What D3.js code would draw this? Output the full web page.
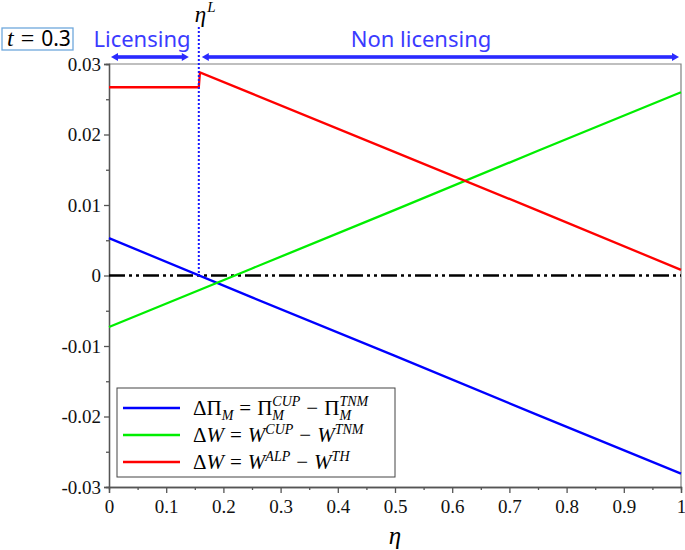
<!DOCTYPE html>
<html>
<head>
<meta charset="utf-8">
<script src="https://cdn.jsdelivr.net/npm/d3@7"></script>
<style>
  body { margin: 0; background: #fff; }
  svg { display: block; }
</style>
</head>
<body>
<script>
// values
var etaL = 0.157
var tVal = 0.3
var etaLin = [0, 0.25, 0.5, 0.75, 1]
var dPiM = [0.0053, -0.0031, -0.0114, -0.0198, -0.0281]
var dWcup = [-0.0073, 0.0010, 0.0093, 0.0177, 0.0260]
var etaRed = [0, 0.155, 0.157, 0.159, 0.25, 0.5, 0.75, 1]
var dWalp = [0.0267, 0.0267, 0.0267, 0.0288, 0.0258, 0.0175, 0.0092, 0.0008]
var xTicks = [0, 0.1, 0.2, 0.3, 0.4, 0.5, 0.6, 0.7, 0.8, 0.9, 1]
var yTicks = [-0.03, -0.02, -0.01, 0, 0.01, 0.02, 0.03]

var W = 685, H = 550
var svg = d3.select("body").append("svg")
  .attr("width", W)
  .attr("height", H)

var x = d3.scaleLinear().domain([0, 1]).range([109, 681])
var y = d3.scaleLinear().domain([-0.03, 0.03]).range([487, 64])

var serif = "Liberation Serif"
var sans = "Noto Sans"
var blueTxt = "#3b3bff"

// frame top/right
svg.append("path")
  .attr("d", "M" + x(0) + "," + y(0.03) + "H" + x(1) + "V" + y(-0.03))
  .attr("fill", "none")
  .attr("stroke", "#808080")
  .attr("stroke-width", 1.2)

// axes (minor ticks in their own groups)
svg.append("g").attr("transform", "translate(0," + y(-0.03) + ")")
  .call(d3.axisBottom(x).tickValues(d3.range(0.05, 1, 0.1)).tickSize(3).tickFormat(""))
var xAxis = svg.append("g").attr("transform", "translate(0," + y(-0.03) + ")")
  .call(d3.axisBottom(x).tickValues(xTicks).tickSize(6).tickFormat(d3.format("~g")))
xAxis.selectAll("text").style("font-family", serif).style("font-size", "19px").attr("fill", "#111").attr("y", 13)

svg.append("g").attr("transform", "translate(" + x(0) + ",0)")
  .call(d3.axisLeft(y).tickValues([-0.025, -0.015, -0.005, 0.005, 0.015, 0.025]).tickSize(3).tickFormat(""))
var yAxis = svg.append("g").attr("transform", "translate(" + x(0) + ",0)")
  .call(d3.axisLeft(y).tickValues(yTicks).tickSize(5).tickFormat(function (d) {
    return d === 0 ? "0" : d3.format(".2f")(d).replace("−", "-")
  }))
yAxis.selectAll("text").style("font-family", serif).style("font-size", "19px").attr("fill", "#111").attr("x", -8)

svg.selectAll(".domain, .tick line").attr("stroke", "#555").attr("stroke-width", 1.3)

// zero reference line, dash-dot-dot
svg.append("line")
  .attr("x1", x(0)).attr("x2", x(1))
  .attr("y1", y(0)).attr("y2", y(0))
  .attr("stroke", "#000")
  .attr("stroke-width", 2.4)
  .attr("stroke-dasharray", "16,4,3,4,3,4")

var line = d3.line()
  .x(function (d) { return x(d[0]) })
  .y(function (d) { return y(d[1]) })

var series = [
  { c: "#0000ff", pts: d3.zip(etaLin, dPiM) },
  { c: "#00ee00", pts: d3.zip(etaLin, dWcup) },
  { c: "#ff0000", pts: d3.zip(etaRed, dWalp) }
]
svg.selectAll(".series")
  .data(series)
  .enter()
  .append("path")
  .attr("class", "series")
  .attr("d", function (d) { return line(d.pts) })
  .attr("fill", "none")
  .attr("stroke", function (d) { return d.c })
  .attr("stroke-width", 2.3)

// eta^L dotted marker
svg.append("line")
  .attr("x1", x(etaL)).attr("x2", x(etaL))
  .attr("y1", 27).attr("y2", y(0))
  .attr("stroke", "#1a1aff")
  .attr("stroke-width", 2)
  .attr("stroke-dasharray", "2,2")

var etaLab = svg.append("text")
  .attr("x", x(etaL) - 4).attr("y", 22)
  .style("font-family", serif).style("font-size", "23px").style("font-style", "italic")
etaLab.append("tspan").text("η")
etaLab.append("tspan").style("font-size", "15px").attr("dy", -10).attr("dx", 1).text("L")

// regime arrows
function arrow(x1, x2, yy) {
  var g = svg.append("g").attr("fill", "#2a2aff").attr("stroke", "none")
  g.append("rect").attr("x", x1 + 4).attr("y", yy - 1.8).attr("width", x2 - x1 - 8).attr("height", 3.6)
  g.append("path").attr("d", "M" + x1 + "," + yy + "l7,-4v8z")
  g.append("path").attr("d", "M" + x2 + "," + yy + "l-7,-4v8z")
}
arrow(x(0) + 2, x(etaL) - 10, 57)
arrow(x(etaL) + 3, x(1) - 2, 57)

svg.append("text")
  .attr("x", 142).attr("y", 47)
  .attr("text-anchor", "middle")
  .style("font-family", sans).style("font-size", "22px").attr("fill", blueTxt)
  .text("Licensing")
svg.append("text")
  .attr("x", 421).attr("y", 47)
  .attr("text-anchor", "middle")
  .style("font-family", sans).style("font-size", "22px").attr("fill", blueTxt)
  .text("Non licensing")

// t box
svg.append("rect")
  .attr("x", 2).attr("y", 28).attr("width", 71).attr("height", 22)
  .attr("fill", "#fff").attr("stroke", "#6fa8dc").attr("stroke-width", 1.3)
var tLab = svg.append("text")
  .attr("x", 7).attr("y", 46)
  .style("font-family", serif).style("font-size", "24px")
tLab.append("tspan").style("font-style", "italic").text("t")
tLab.append("tspan").attr("dx", 7).text("=")
tLab.append("tspan").attr("dx", 7).style("font-family", sans).style("font-size", "21px").text(tVal)

// legend
svg.append("rect")
  .attr("x", 117).attr("y", 388).attr("width", 278).attr("height", 89)
  .attr("fill", "#fff").attr("stroke", "#444").attr("stroke-width", 1)

// parts: [text, italic, kind] kind 0 = base, 1 = subscript, 2 = superscript, 3 = operator
var legendRows = [
  { c: "#0000ff", parts: [["ΔΠ", 0, 0], ["M", 1, 1], ["=", 0, 3], ["Π", 0, 0], ["M", 1, 1], ["CUP", 1, 2], ["−", 0, 3], ["Π", 0, 0], ["M", 1, 1], ["TNM", 1, 2]] },
  { c: "#00ee00", parts: [["Δ", 0, 0], ["W", 1, 0], ["=", 0, 3], ["W", 1, 0], ["CUP", 1, 2], ["−", 0, 3], ["W", 1, 0], ["TNM", 1, 2]] },
  { c: "#ff0000", parts: [["Δ", 0, 0], ["W", 1, 0], ["=", 0, 3], ["W", 1, 0], ["ALP", 1, 2], ["−", 0, 3], ["W", 1, 0], ["TH", 1, 2]] }
]
legendRows.forEach(function (r, i) {
  var yy = 408 + i * 27
  svg.append("line")
    .attr("x1", 123).attr("x2", 180).attr("y1", yy).attr("y2", yy)
    .attr("stroke", r.c).attr("stroke-width", 2.5)
  var cx = 193, base = yy + 7, subX = null
  r.parts.forEach(function (p) {
    var s = svg.append("text").text(p[0])
      .style("font-family", serif).style("font-size", "21px")
    if (p[1]) s.style("font-style", "italic")
    var yOff = 0, gapL = 0, gapR = 0
    if (p[2] === 1) { s.style("font-size", "14px"); yOff = 5 }
    if (p[2] === 2) { s.style("font-size", "14px"); yOff = -8 }
    if (p[2] === 3) { gapL = 6; gapR = 6 }
    var sx = cx + gapL
    if (p[2] === 2 && subX !== null) { sx = subX; yOff = -9 }
    s.attr("x", sx).attr("y", base + yOff)
    var w = s.node().getComputedTextLength()
    if (p[2] === 1) subX = sx
    else if (p[2] !== 2) subX = null
    cx = Math.max(sx + w + gapR, cx)
  })
})

// x label
svg.append("text")
  .attr("x", 395).attr("y", 544)
  .attr("text-anchor", "middle")
  .style("font-family", serif).style("font-size", "25px").style("font-style", "italic")
  .text("η")
</script>
</body>
</html>
